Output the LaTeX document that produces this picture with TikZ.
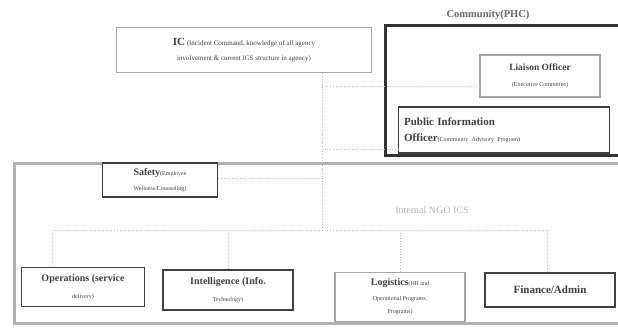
\documentclass[tikz,border=0pt]{standalone}
\usepackage{fontspec}
\setmainfont{Liberation Serif}
\begin{document}
\begin{tikzpicture}[x=1pt,y=-1pt,
  box/.style={draw=gray!70,line width=1.3pt,fill=white,align=center,inner sep=1pt,text=black!75},
  darkbox/.style={draw=black!75,line width=1.3pt,fill=white,align=center,inner sep=1pt,text=black!75},
  conn/.style={draw=gray!55,line width=0.7pt,dotted},
  lbl/.style={text=gray!80!black}]
\useasboundingbox (0,0) rectangle (618,329);
% outer internal frame
\draw[draw=gray!60,line width=3pt] (14,163) rectangle (622,323);
\node[text=gray!60,font=\fontsize{10}{12}\selectfont] (internal) at (432,210) {Internal NGO ICS};
% community frame
\node[lbl,font=\bfseries\fontsize{10.5}{12}\selectfont] (commlabel) at (488,15) {Community(PHC)};
\draw[draw=black!80,line width=3pt] (385,26) rectangle (622,155);
% IC
\node[box,minimum width=255pt,minimum height=45pt] (ic) at (244,50) {{\bfseries\fontsize{11}{12}\selectfont IC}\,{\fontsize{7}{8}\selectfont(Incident Command, knowledge of all agency}\\[3pt]{\fontsize{7}{8}\selectfont involvement \& current ICS structure in agency)}};
% liaison
\node[box,minimum width=120pt,minimum height=42pt] (liaison) at (540,76) {{\bfseries\fontsize{9.5}{11}\selectfont Liaison Officer}\\[4pt]{\fontsize{6}{7}\selectfont(Executive Committee)}};
% PIO
\node[darkbox,minimum width=211pt,minimum height=46pt,text width=200pt,align=left,anchor=west] (pio) at (398,130) {{\bfseries\fontsize{11}{12}\selectfont Public Information}\\[4pt]{\bfseries\fontsize{11}{12}\selectfont Officer}{\fontsize{6}{7}\selectfont(Community Advisory Program)}};
% safety
\node[darkbox,minimum width=115pt,minimum height=34pt] (safety) at (160,180) {{\bfseries\fontsize{10}{11}\selectfont Safety}{\fontsize{6}{7}\selectfont(Employee}\\[3pt]{\fontsize{6}{7}\selectfont Wellness/Counseling)}};
% bottom boxes
\node[darkbox,minimum width=123pt,minimum height=39pt] (ops) at (83,287) {{\bfseries\fontsize{10}{11}\selectfont Operations (service}\\[5pt]{\fontsize{6}{7}\selectfont delivery)}};
\node[darkbox,minimum width=130pt,minimum height=40pt] (intel) at (228,290) {{\bfseries\fontsize{10}{11}\selectfont Intelligence (Info.}\\[5pt]{\fontsize{6}{7}\selectfont Technology)}};
\node[box,minimum width=130pt,minimum height=49pt] (log) at (400,297) {{\bfseries\fontsize{10}{11}\selectfont Logistics}{\fontsize{6}{7}\selectfont(HR and}\\[3pt]{\fontsize{6}{7}\selectfont Operational Programs,}\\[1pt]{\fontsize{6}{7}\selectfont Programs)}};
\node[darkbox,minimum width=130pt,minimum height=34pt] (fin) at (550,290) {{\bfseries\fontsize{11}{12}\selectfont Finance/Admin}};
% connectors
\coordinate (trunk) at (322,230);
\coordinate (jl) at (322,86);
\coordinate (jp) at (322,149);
\coordinate (js) at (322,178);
\coordinate (hl) at (52,230);
\coordinate (hr) at (547,230);
\draw[conn] (ic.south -| trunk) -- (trunk);
\draw[conn] (jl) -- (jl -| liaison.west);
\draw[conn] (jp) -- (jp -| pio.west);
\draw[conn] (safety.east |- js) -- (js);
\draw[conn] (hl) -- (hr);
\draw[conn] (hl) -- (hl |- ops.north);
\draw[conn] (intel.north |- hl) -- (intel.north);
\draw[conn] (log.north |- hl) -- (log.north);
\draw[conn] (hr) -- (hr |- fin.north);
\end{tikzpicture}
\end{document}
